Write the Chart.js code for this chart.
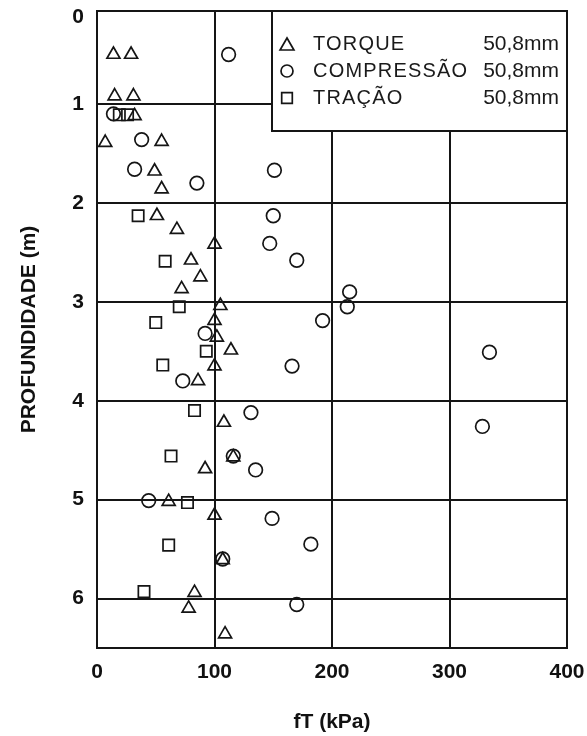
<!DOCTYPE html>
<html>
<head>
<meta charset="utf-8">
<script src="https://cdn.jsdelivr.net/npm/chart.js@4.4.1/dist/chart.umd.min.js"></script>
<style>
  html, body { margin: 0; padding: 0; background: #fff; }
  #c { display: block; }
</style>
</head>
<body>
<canvas id="c" width="587" height="736"></canvas>
<script>
// Side friction fT (kPa) against depth (m) for three test types, 50.8 mm samplers
const torqueFt    = [14, 29, 15, 31, 32, 7, 55, 49, 55, 51, 68, 100, 80, 88, 72, 105, 100, 102, 114, 100, 86, 108, 116, 92, 61, 100, 107, 83, 78, 109];
const torqueDepth = [0.50, 0.50, 0.92, 0.92, 1.12, 1.39, 1.38, 1.68, 1.86, 2.13, 2.27, 2.42, 2.58, 2.75, 2.87, 3.04, 3.19, 3.36, 3.49, 3.65, 3.80, 4.22, 4.57, 4.69, 5.02, 5.16, 5.61, 5.94, 6.10, 6.36];

const compFt    = [112, 14, 38, 32, 85, 151, 150, 147, 170, 215, 213, 192, 92, 166, 334, 73, 131, 328, 116, 135, 44, 149, 182, 107, 170];
const compDepth = [0.50, 1.10, 1.36, 1.66, 1.80, 1.67, 2.13, 2.41, 2.58, 2.90, 3.05, 3.19, 3.32, 3.65, 3.51, 3.80, 4.12, 4.26, 4.56, 4.70, 5.01, 5.19, 5.45, 5.60, 6.06];

const tracaoFt    = [19, 26, 35, 58, 70, 50, 93, 56, 83, 63, 77, 61, 40];
const tracaoDepth = [1.11, 1.11, 2.13, 2.59, 3.05, 3.21, 3.50, 3.64, 4.10, 4.56, 5.03, 5.46, 5.93];

const seriesNames = ['TORQUE', 'COMPRESSÃO', 'TRAÇÃO'];
const seriesDiameter = ['50,8mm', '50,8mm', '50,8mm'];
const seriesStyles = ['triangle', 'circle', 'rect'];

const depthTicks = [0, 1, 2, 3, 4, 5, 6];
const ftTicks = [0, 100, 200, 300, 400];
const depthTop = 0.06, depthBottom = 6.5;
const zeroLabelAt = 0.12;   // the "0" label sits just under the top frame line

const toPoints = (xs, ys) => xs.map((x, i) => ({ x: x, y: ys[i] }));

const ink = '#151515';
const pointRadius = { triangle: 7.5, circle: 6.8, rect: 8 };

function dataset(i, xs, ys) {
  return {
    label: seriesNames[i],
    data: toPoints(xs, ys),
    pointStyle: seriesStyles[i],
    pointRadius: pointRadius[seriesStyles[i]],
    pointHoverRadius: pointRadius[seriesStyles[i]],
    pointBorderWidth: 1.7,
    borderColor: ink,
    backgroundColor: 'rgba(0,0,0,0)',
    showLine: false
  };
}

// Fixed axis boxes: no extra room for overhanging tick labels
function fixBox(scale, size) {
  if (scale.isHorizontal()) scale.height = size; else scale.width = size;
  scale.paddingLeft = 0; scale.paddingRight = 0;
  scale.paddingTop = 0; scale.paddingBottom = 0;
}

// Framed plot area
const framePlugin = {
  id: 'frame',
  afterDatasetsDraw(chart) {
    const { ctx, chartArea: a } = chart;
    ctx.save();
    ctx.strokeStyle = ink;
    ctx.lineWidth = 2;
    ctx.strokeRect(a.left, a.top, a.right - a.left, a.bottom - a.top);
    ctx.restore();
  }
};

// Boxed legend in the upper right corner of the plot
const boxLegendPlugin = {
  id: 'boxLegend',
  afterDraw(chart) {
    const { ctx, chartArea: a } = chart;
    const x0 = 272, y0 = a.top, x1 = a.right, y1 = 131;
    ctx.save();
    ctx.fillStyle = '#fff';
    ctx.fillRect(x0, y0, x1 - x0, y1 - y0);
    ctx.strokeStyle = ink;
    ctx.lineWidth = 2;
    ctx.strokeRect(x0, y0, x1 - x0, y1 - y0);
    const rows = [44, 71, 98];
    chart.data.datasets.forEach((ds, i) => {
      const y = rows[i];
      ctx.fillStyle = 'rgba(0,0,0,0)';
      ctx.strokeStyle = ink;
      ctx.lineWidth = 1.7;
      Chart.helpers.drawPoint(ctx, {
        pointStyle: ds.pointStyle,
        radius: ds.pointStyle === 'triangle' ? 8 : (ds.pointStyle === 'rect' ? 7.5 : 6),
        borderWidth: 1.7
      }, 287, y + (ds.pointStyle === 'triangle' ? 2 : 0));
      ctx.fillStyle = '#1a1a1a';
      ctx.textBaseline = 'middle';
      ctx.textAlign = 'left';
      ctx.font = '20px "Liberation Sans", Arial, sans-serif';
      if ('letterSpacing' in ctx) ctx.letterSpacing = '1.2px';
      ctx.fillText(seriesNames[i], 313, y);
      if ('letterSpacing' in ctx) ctx.letterSpacing = '0px';
      ctx.textAlign = 'right';
      ctx.font = '21px "Liberation Sans", Arial, sans-serif';
      ctx.fillText(seriesDiameter[i], 559, y);
    });
    ctx.restore();
  }
};

const tickFont = { family: '"Liberation Sans", Arial, sans-serif', size: 21, weight: 'bold' };
const titleFont = { family: '"Liberation Sans", Arial, sans-serif', size: 21, weight: 'bold', lineHeight: 1 };

new Chart(document.getElementById('c'), {
  type: 'scatter',
  data: {
    datasets: [
      dataset(0, torqueFt, torqueDepth),
      dataset(1, compFt, compDepth),
      dataset(2, tracaoFt, tracaoDepth)
    ]
  },
  options: {
    responsive: false,
    animation: false,
    devicePixelRatio: 1,
    layout: { padding: { top: 11, right: 20, bottom: 0, left: 0 } },
    plugins: { legend: { display: false }, tooltip: { enabled: false } },
    scales: {
      x: {
        type: 'linear',
        min: 0, max: 400,
        afterBuildTicks(scale) { scale.ticks = ftTicks.map(v => ({ value: v })); },
        afterFit(scale) { fixBox(scale, 88); },
        grid: { color: ink, lineWidth: 2, drawTicks: false },
        border: { color: ink, width: 2 },
        ticks: { color: '#111', font: tickFont, padding: 12, maxRotation: 0 },
        title: { display: true, text: 'fT (kPa)', color: '#111', font: titleFont, padding: { top: 0, bottom: 3 } }
      },
      y: {
        type: 'linear',
        reverse: true,
        min: depthTop, max: depthBottom,
        afterBuildTicks(scale) { scale.ticks = depthTicks.map(v => ({ value: v === 0 ? zeroLabelAt : v })); },
        afterFit(scale) { fixBox(scale, 97); },
        grid: {
          color: c => (c.tick && c.tick.value < 0.5 ? 'rgba(0,0,0,0)' : ink),
          lineWidth: 2, drawTicks: false
        },
        border: { color: ink, width: 2 },
        ticks: { color: '#111', font: tickFont, padding: 13, callback: v => String(Math.round(v)) },
        title: { display: true, text: 'PROFUNDIDADE (m)', color: '#111', font: titleFont, padding: { top: 19, bottom: 0 } }
      }
    }
  },
  plugins: [framePlugin, boxLegendPlugin]
});
</script>
</body>
</html>
